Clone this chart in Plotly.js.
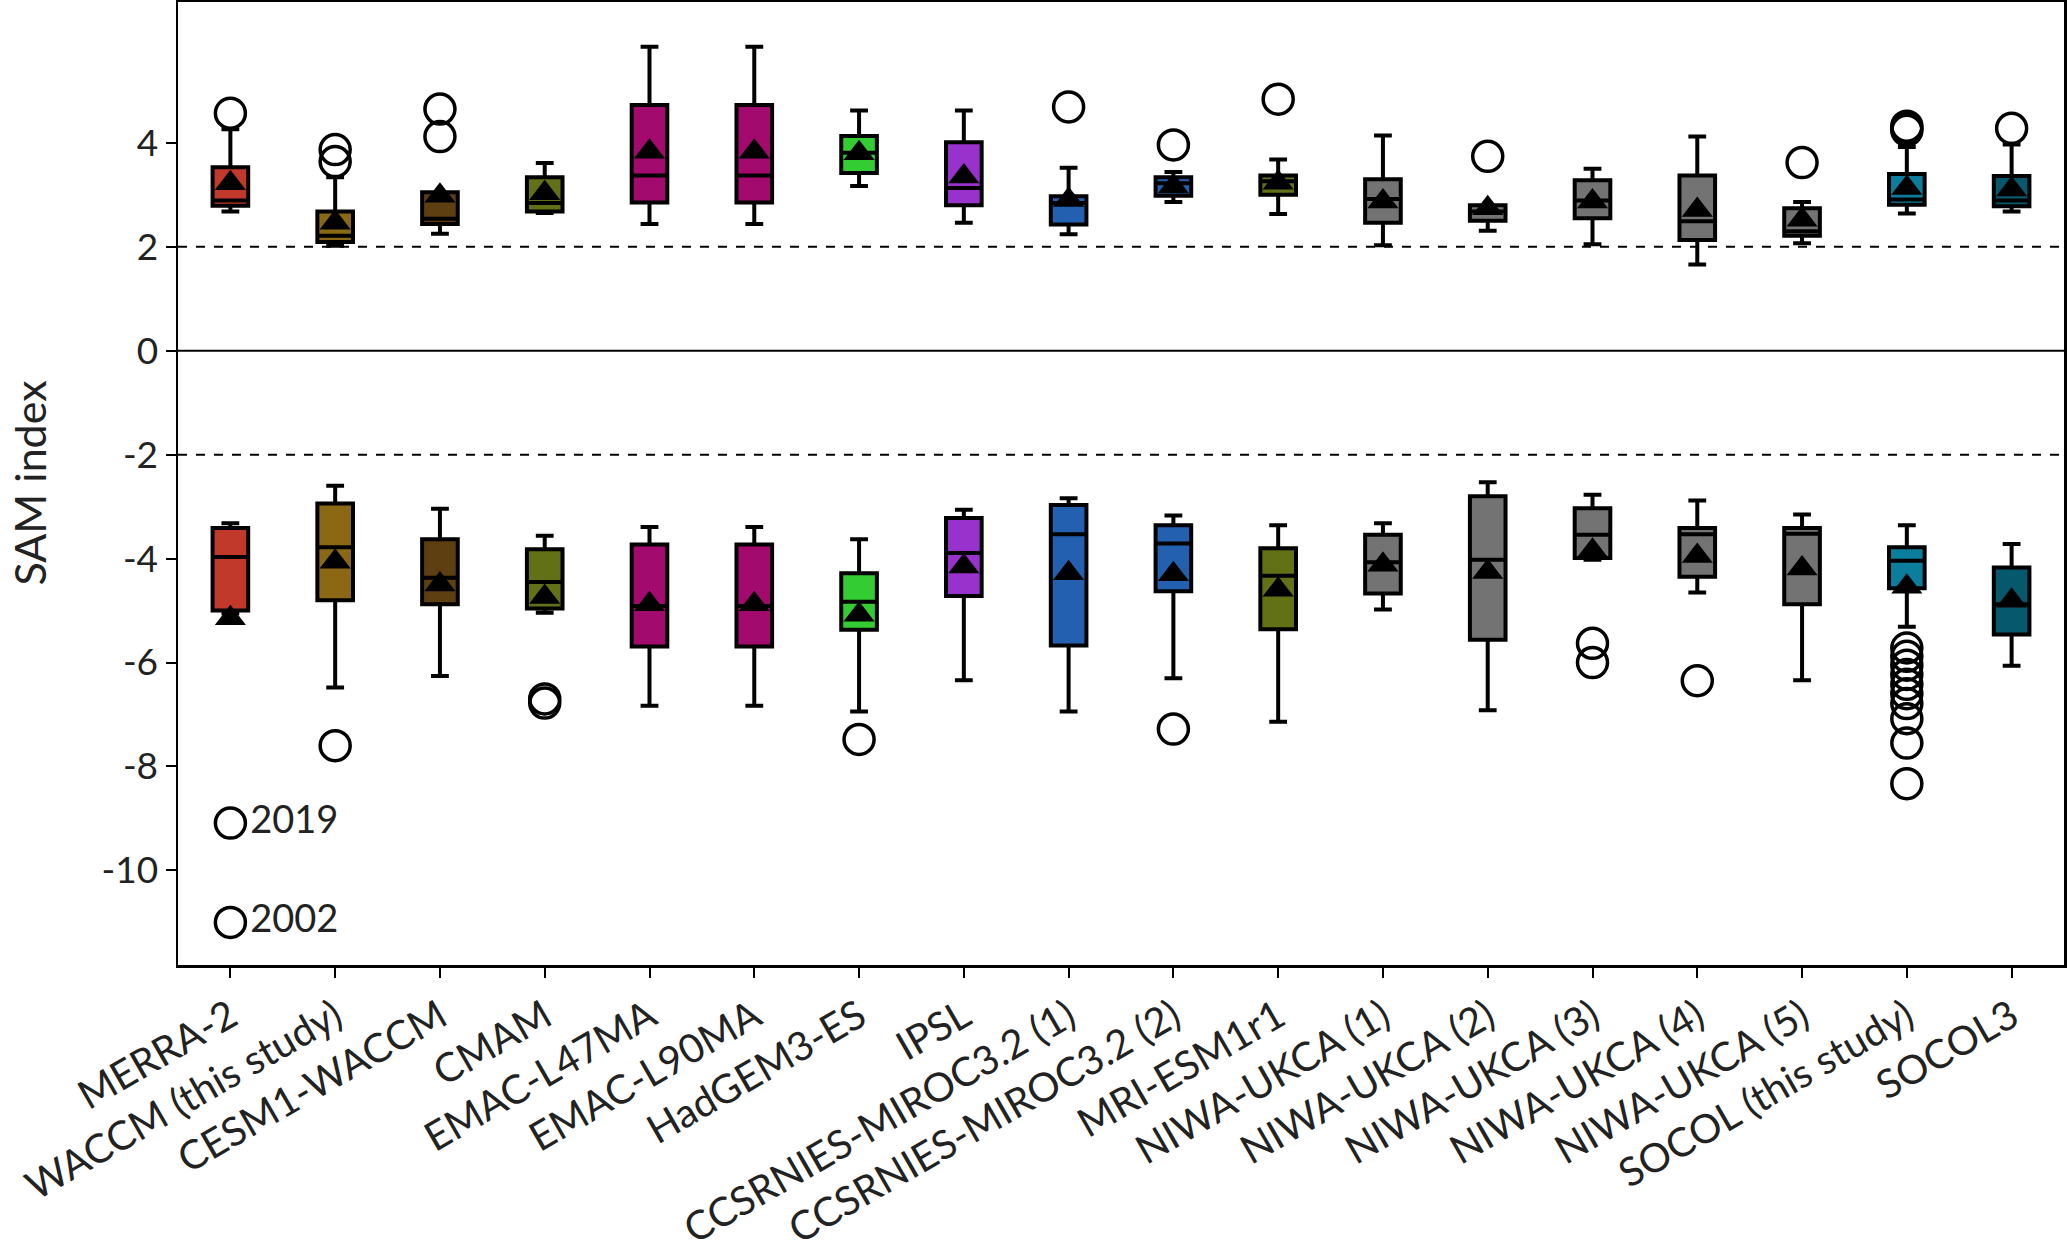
<!DOCTYPE html>
<html>
<head>
<meta charset="utf-8">
<script src="https://cdn.plot.ly/plotly-3.0.1.min.js"></script>
<style>html,body{margin:0;padding:0;background:#fff;}</style>
</head>
<body>
<div id="chart" style="width:2067px;height:1257px;"></div>
<script>
const categories = ["MERRA-2","WACCM (this study)","CESM1-WACCM","CMAM","EMAC-L47MA","EMAC-L90MA","HadGEM3-ES","IPSL","CCSRNIES-MIROC3.2 (1)","CCSRNIES-MIROC3.2 (2)","MRI-ESM1r1","NIWA-UKCA (1)","NIWA-UKCA (2)","NIWA-UKCA (3)","NIWA-UKCA (4)","NIWA-UKCA (5)","SOCOL (this study)","SOCOL3"];
const colors = ["#C0392B","#8B6914","#5E3F12","#627016","#A30A6E","#A30A6E","#33CC33","#9932CC","#2460B0","#2460B0","#627016","#737373","#737373","#737373","#737373","#737373","#0A7E9C","#06586C"];

// Positive SAM events
const posLower  = [2.68,2.02,2.25,2.65,2.44,2.44,3.17,2.46,2.24,2.86,2.63,2.03,2.31,2.05,1.66,2.07,2.64,2.68];
const posQ1     = [2.79,2.09,2.44,2.68,2.85,2.85,3.42,2.80,2.43,2.98,3.00,2.46,2.50,2.55,2.13,2.21,2.81,2.78];
const posMedian = [2.89,2.21,2.54,2.84,3.37,3.37,3.81,3.13,2.84,3.22,3.26,2.92,2.68,2.89,2.49,2.30,2.91,2.89];
const posQ3     = [3.53,2.68,3.05,3.34,4.73,4.73,4.13,4.01,2.97,3.34,3.37,3.30,2.80,3.28,3.37,2.74,3.40,3.36];
const posUpper  = [4.26,3.34,3.05,3.61,5.85,5.85,4.62,4.62,3.52,3.44,3.68,4.14,2.80,3.50,4.12,2.86,3.92,3.97];
const posMean   = [3.22,2.46,2.98,3.03,3.83,3.83,3.80,3.35,2.90,3.16,3.23,2.87,2.74,2.87,2.71,2.52,3.13,3.10];

// Negative SAM events
const negLower  = [-5.05,-6.48,-6.26,-5.04,-6.83,-6.83,-6.94,-6.34,-6.94,-6.30,-7.14,-4.98,-6.92,-4.02,-4.65,-6.34,-5.31,-6.06];
const negQ1     = [-5.00,-4.80,-4.88,-4.96,-5.69,-5.69,-5.37,-4.72,-5.67,-4.63,-5.36,-4.67,-5.56,-3.99,-4.35,-4.88,-4.57,-5.46];
const negMedian = [-3.97,-3.78,-4.37,-4.45,-4.91,-4.91,-4.83,-3.89,-3.53,-3.71,-4.33,-4.07,-4.02,-3.54,-3.53,-3.52,-4.04,-4.88];
const negQ3     = [-3.41,-2.94,-3.63,-3.82,-3.73,-3.73,-4.28,-3.22,-2.97,-3.36,-3.80,-3.54,-2.80,-3.03,-3.41,-3.41,-3.78,-4.17];
const negUpper  = [-3.32,-2.60,-3.04,-3.56,-3.39,-3.39,-3.63,-3.06,-2.84,-3.17,-3.36,-3.32,-2.53,-2.77,-2.88,-3.15,-3.36,-3.72];
const negMean   = [-5.15,-4.06,-4.50,-4.74,-4.88,-4.88,-5.08,-4.15,-4.28,-4.30,-4.60,-4.12,-4.26,-3.85,-3.95,-4.19,-4.54,-4.81];

// Outliers
const outlierCategory = ["MERRA-2","WACCM (this study)","WACCM (this study)","CESM1-WACCM","CESM1-WACCM","CCSRNIES-MIROC3.2 (1)","CCSRNIES-MIROC3.2 (2)","MRI-ESM1r1","NIWA-UKCA (2)","NIWA-UKCA (5)","SOCOL (this study)","SOCOL (this study)","SOCOL (this study)","SOCOL3",
  "WACCM (this study)","CMAM","CMAM","HadGEM3-ES","CCSRNIES-MIROC3.2 (2)","NIWA-UKCA (3)","NIWA-UKCA (3)","NIWA-UKCA (4)",
  "SOCOL (this study)","SOCOL (this study)","SOCOL (this study)","SOCOL (this study)","SOCOL (this study)","SOCOL (this study)","SOCOL (this study)","SOCOL (this study)","SOCOL (this study)","SOCOL (this study)"];
const outlierValue = [4.57,3.87,3.64,4.65,4.12,4.69,3.96,4.84,3.74,3.62,4.28,4.32,4.24,4.28,
  -7.60,-6.70,-6.78,-7.48,-7.28,-5.63,-6.00,-6.35,
  -5.72,-5.88,-6.05,-6.23,-6.42,-6.60,-6.79,-7.08,-7.55,-8.33];

// Labelled outliers (MERRA-2 extreme years)
const labelledCategory = ["MERRA-2","MERRA-2"];
const labelledValue = [-9.09,-11.0];
const labelledYear = ["2019","2002"];

const yTicks = [-10,-8,-6,-4,-2,0,2,4];

const font = "Lato, 'DejaVu Sans', sans-serif";
const traces = [];
categories.forEach((c, i) => {
  traces.push({
    type: "box",
    x: [c, c],
    q1: [posQ1[i], negQ1[i]],
    median: [posMedian[i], negMedian[i]],
    q3: [posQ3[i], negQ3[i]],
    lowerfence: [posLower[i], negLower[i]],
    upperfence: [posUpper[i], negUpper[i]],
    width: 0.34,
    whiskerwidth: 0.5,
    fillcolor: colors[i],
    line: {color: "#000", width: 4},
    boxpoints: false,
    hoverinfo: "skip",
    showlegend: false
  });
});
traces.push({
  type: "scatter", mode: "markers",
  x: categories.concat(categories),
  y: posMean.concat(negMean),
  marker: {symbol: "triangle-up", size: 27, color: "#000", line: {width: 0}},
  hoverinfo: "skip", showlegend: false
});
traces.push({
  type: "scatter", mode: "markers",
  x: outlierCategory, y: outlierValue,
  marker: {symbol: "circle-open", size: 30, color: "#000", line: {width: 3.5, color: "#000"}},
  hoverinfo: "skip", showlegend: false
});
traces.push({
  type: "scatter", mode: "markers+text",
  x: labelledCategory, y: labelledValue, text: labelledYear,
  textposition: "middle right",
  textfont: {family: font, size: 38, color: "#222"},
  marker: {symbol: "circle-open", size: 30, color: "#000", line: {width: 3.5, color: "#000"}},
  hoverinfo: "skip", showlegend: false
});

const layout = {
  width: 2067, height: 1257,
  margin: {l: 178, r: 3, t: 2, b: 292},
  paper_bgcolor: "#fff", plot_bgcolor: "#fff",
  font: {family: font, size: 38, color: "#222"},
  showlegend: false,
  boxmode: "overlay",
  xaxis: {
    type: "category", categoryorder: "array", categoryarray: categories,
    range: [-0.5, 17.5],
    showline: true, mirror: true, linecolor: "#000", linewidth: 2.5,
    ticks: "outside", ticklen: 10, tickwidth: 2, tickcolor: "#000",
    tickangle: -30, tickfont: {family: font, size: 40, color: "#222"},
    showgrid: false, zeroline: false, automargin: false
  },
  yaxis: {
    range: [-11.82, 6.71],
    tickvals: yTicks, ticktext: yTicks.map(String),
    showline: true, mirror: true, linecolor: "#000", linewidth: 2.5,
    ticks: "outside", ticklen: 10, tickwidth: 2, tickcolor: "#000",
    tickfont: {family: font, size: 37, color: "#222"},
    showgrid: false, zeroline: false, automargin: false
  },
  shapes: [
    {type: "line", xref: "paper", x0: 0, x1: 1, yref: "y", y0: 0, y1: 0, line: {color: "#000", width: 2}},
    {type: "line", xref: "paper", x0: 0, x1: 1, yref: "y", y0: 2, y1: 2, line: {color: "#000", width: 2, dash: "dash"}},
    {type: "line", xref: "paper", x0: 0, x1: 1, yref: "y", y0: -2, y1: -2, line: {color: "#000", width: 2, dash: "dash"}}
  ],
  annotations: [
    {text: "SAM index", xref: "paper", yref: "paper", x: -0.079, y: 0.5, textangle: -90,
     showarrow: false, xanchor: "center", yanchor: "middle", font: {family: font, size: 43, color: "#222"}}
  ]
};

Plotly.newPlot("chart", traces, layout, {staticPlot: true, displayModeBar: false});
</script>
</body>
</html>
